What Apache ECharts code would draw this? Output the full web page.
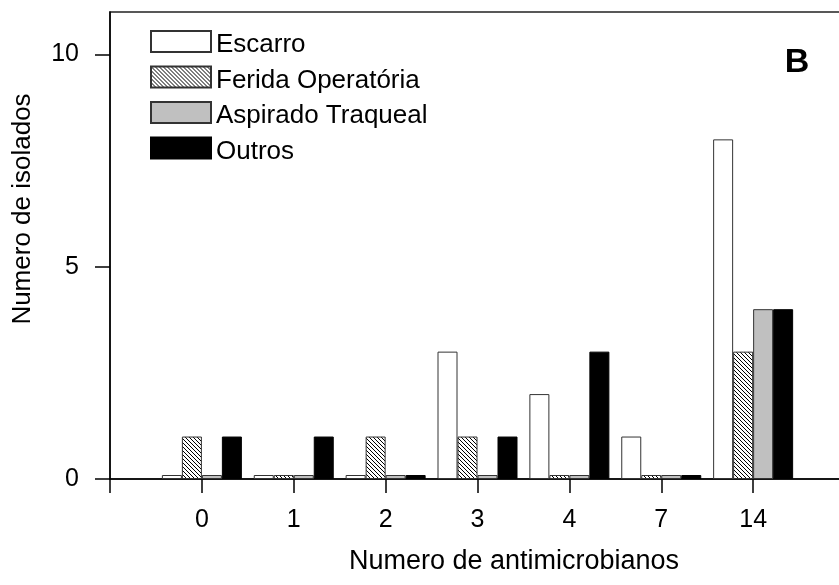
<!DOCTYPE html>
<html>
<head>
<meta charset="utf-8">
<script src="https://cdn.jsdelivr.net/npm/echarts@6/dist/echarts.min.js"></script>
<style>
html,body{margin:0;padding:0;background:#fff;}
#chart{width:839px;height:585px;}
</style>
</head>
<body>
<div id="chart"></div>
<script>
// ---- data ----
var categories = ["0", "1", "2", "3", "4", "7", "14"];
var seriesNames = ["Escarro", "Ferida Operatória", "Aspirado Traqueal", "Outros"];
var escarro = [0, 0, 0, 3, 2, 1, 8];
var feridaOperatoria = [1, 0, 1, 1, 0, 0, 3];
var aspiradoTraqueal = [0, 0, 0, 0, 0, 0, 4];
var outros = [1, 1, 0, 1, 3, 0, 4];
var yTicks = [0, 5, 10];
var xTitle = "Numero de antimicrobianos";
var yTitle = "Numero de isolados";
var panelLabel = "B";

var FONT = '"Liberation Sans", Arial, sans-serif';

function toPairs(arr) {
  return arr.map(function (v, i) { return [i, v]; });
}

// hatch pattern (\\\ lines)
var hatch = document.createElement('canvas');
hatch.width = 4; hatch.height = 4;
(function () {
  var c = hatch.getContext('2d');
  c.fillStyle = '#fff';
  c.fillRect(0, 0, 4, 4);
  c.strokeStyle = '#000';
  c.lineWidth = 1;
  c.beginPath();
  c.moveTo(-1, -1); c.lineTo(5, 5);
  c.moveTo(-1, 3); c.lineTo(1, 5);
  c.moveTo(3, -1); c.lineTo(5, 1);
  c.stroke();
})();

var styles = [
  { color: '#ffffff', borderColor: '#333', borderWidth: 1 },
  { color: { image: hatch, repeat: 'repeat' }, borderColor: '#333', borderWidth: 1 },
  { color: '#c0c0c0', borderColor: '#333', borderWidth: 1 },
  { color: '#000000', borderColor: '#000', borderWidth: 1 }
];
var values = [escarro, feridaOperatoria, aspiradoTraqueal, outros];

var chart = echarts.init(document.getElementById('chart'), null, { renderer: 'canvas' });

var option = {
  animation: false,
  backgroundColor: '#fff',
  grid: {
    left: 110, top: 12, width: 735, bottom: 106,
    show: true, borderColor: '#222', borderWidth: 1.5, backgroundColor: 'transparent',
    containLabel: false, outerBoundsMode: 'none'
  },
  legend: {
    orient: 'vertical',
    left: 150, top: 30, padding: 0,
    itemWidth: 60, itemHeight: 21, itemGap: 7.5,
    icon: 'rect',
    formatter: function (name) { return '{t|' + name + '}'; },
    textStyle: {
      fontFamily: FONT, fontSize: 26, color: '#000',
      rich: { t: { fontFamily: FONT, fontSize: 26, color: '#000', padding: [7, 0, 0, 0] } }
    },
    data: seriesNames
  },
  xAxis: {
    type: 'value', min: -1, max: 7, interval: 1,
    axisLine: { show: true, lineStyle: { color: '#000', width: 1.5 } },
    axisTick: { show: true, inside: false, length: 14, lineStyle: { color: '#000', width: 1.5 } },
    axisLabel: {
      margin: 29, fontFamily: FONT, fontSize: 25, color: '#000',
      formatter: function (v) { return (v >= 0 && v < categories.length) ? categories[v] : ''; }
    },
    splitLine: { show: false }
  },
  yAxis: {
    type: 'value', min: 0, max: 11,
    axisLine: { show: true, onZero: false, lineStyle: { color: '#000', width: 1.5 } },
    axisTick: { show: true, length: 15, customValues: yTicks, lineStyle: { color: '#000', width: 1.5 } },
    axisLabel: { margin: 31, fontFamily: FONT, fontSize: 25, color: '#000', customValues: yTicks },
    splitLine: { show: false }
  },
  series: seriesNames.map(function (name, k) {
    return {
      name: name, type: 'bar',
      barWidth: 20, barGap: '0%', barMinHeight: 4,
      itemStyle: styles[k],
      emphasis: { disabled: true },
      data: toPairs(values[k])
    };
  }),
  graphic: [
    { type: 'text', x: 514, y: 562, style: { text: xTitle, font: '27px ' + FONT, fill: '#000', textAlign: 'center', textVerticalAlign: 'middle' } },
    { type: 'text', x: 23, y: 209, rotation: Math.PI / 2, style: { text: yTitle, font: '26px ' + FONT, fill: '#000', textAlign: 'center', textVerticalAlign: 'middle' } },
    { type: 'text', x: 797, y: 63, style: { text: panelLabel, font: 'bold 34px ' + FONT, fill: '#000', textAlign: 'center', textVerticalAlign: 'middle' } }
  ]
};
chart.setOption(option);
</script>
</body>
</html>
